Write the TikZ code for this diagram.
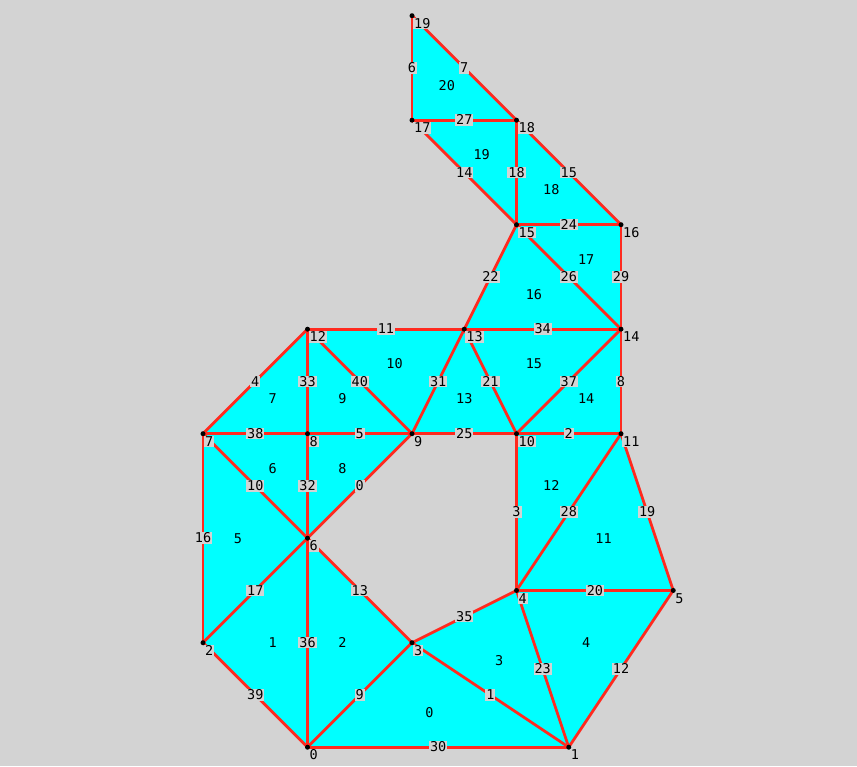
\documentclass[tikz,border=0pt]{standalone}
\usepackage{fontspec}
\newfontfamily\labfont{DejaVu Sans Mono}
\usetikzlibrary{calc}
\definecolor{bg}{HTML}{D3D3D3}
\definecolor{edgered}{HTML}{FF2A1F}
\definecolor{facecyan}{HTML}{00FFFF}
\begin{document}
\begin{tikzpicture}[x=1pt,y=-1pt,
  every node/.style={font=\labfont\fontsize{13.5}{14}\selectfont},
  edge/.style={draw=edgered,line width=2.8pt,line cap=round},
  face/.style={fill=facecyan,draw=facecyan,line width=0.6pt,line join=round},
  elab/.style={fill=bg,inner sep=1pt,text height=9.5pt,text depth=0pt},
  vlab/.style={fill=bg,inner sep=1pt,anchor=north west,text height=9.5pt,text depth=0pt},
  flab/.style={inner sep=0pt},
  dot/.style={fill=black,circle,inner sep=0pt,minimum size=5pt}]
\fill[bg] (0,0) rectangle (857,766);
\useasboundingbox (0,0) rectangle (857,766);
\foreach \i/\k/\m in {0/1/7,1/3.5/7,2/0/6,3/2/6,4/3/5.5,5/4.5/5.5,6/1/5,7/0/4,8/1/4,9/2/4,10/3/4,11/4/4,12/1/3,13/2.5/3,14/4/3,15/3/2,16/4/2,17/2/1,18/3/1,19/2/0}{
  \coordinate (v\i) at ({203+104.5*\k},{15.7+104.5*\m});
}
% faces
\foreach \a/\b/\c/\t in {0/1/3/0,0/2/6/1,0/3/6/2,1/3/4/3,1/4/5/4,2/6/7/5,6/7/8/6,7/8/12/7,6/8/9/8,8/9/12/9,9/12/13/10,4/5/11/11,4/10/11/12,9/10/13/13,10/11/14/14,10/13/14/15,13/14/15/16,14/15/16/17,15/16/18/18,15/17/18/19,17/18/19/20}{
  \path[face] (v\a) -- (v\b) -- (v\c) -- cycle;
}
% edges
\foreach \a/\b in {0/1,0/2,0/6,0/3,1/3,1/4,1/5,2/6,2/7,3/6,3/4,4/5,4/10,4/11,5/11,6/7,6/8,6/9,7/8,7/12,8/9,8/12,9/10,9/12,9/13,10/11,10/13,10/14,11/14,12/13,13/14,13/15,14/15,14/16,15/16,15/17,15/18,16/18,17/18,17/19,18/19}{
  \draw[edge] (v\a) -- (v\b);
}
% edge labels
\foreach \a/\b/\t in {0/1/30,0/2/39,0/6/36,0/3/9,1/3/1,1/4/23,1/5/12,2/6/17,2/7/16,3/6/13,3/4/35,4/5/20,4/10/3,4/11/28,5/11/19,6/7/10,6/8/32,6/9/0,7/8/38,7/12/4,8/9/5,8/12/33,9/10/25,9/12/40,9/13/31,10/11/2,10/13/21,10/14/37,11/14/8,12/13/11,13/14/34,13/15/22,14/15/26,14/16/29,15/16/24,15/17/14,15/18/18,16/18/15,17/18/27,17/19/6,18/19/7}{
  \node[elab] (e\a-\b) at ($(v\a)!0.5!(v\b)$) {\t};
}
% face labels
\foreach \a/\b/\c/\t in {0/1/3/0,0/2/6/1,0/3/6/2,1/3/4/3,1/4/5/4,2/6/7/5,6/7/8/6,7/8/12/7,6/8/9/8,8/9/12/9,9/12/13/10,4/5/11/11,4/10/11/12,9/10/13/13,10/11/14/14,10/13/14/15,13/14/15/16,14/15/16/17,15/16/18/18,15/17/18/19,17/18/19/20}{
  \node[flab] (f\t) at ($0.3333*(v\a)+0.3333*(v\b)+0.3334*(v\c)$) {\t};
}
% vertices
\foreach \i in {0,...,19}{
  \node[dot] (d\i) at (v\i) {};
  \node[vlab] (l\i) at ($(v\i)+(1,2)$) {\i};
}
\end{tikzpicture}
\end{document}
